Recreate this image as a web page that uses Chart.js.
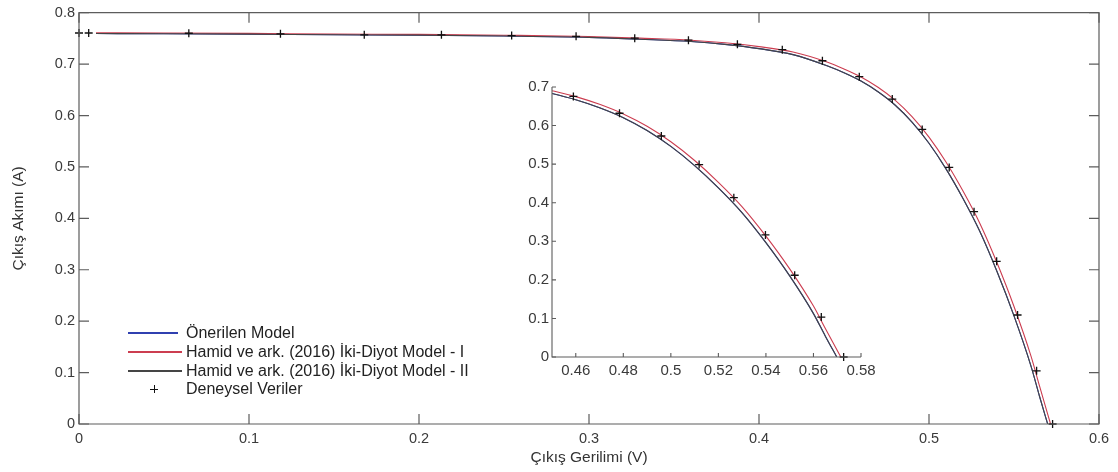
<!DOCTYPE html>
<html>
<head>
<meta charset="utf-8">
<script src="https://cdn.jsdelivr.net/npm/chart.js@4/dist/chart.umd.min.js"></script>
<style>
html,body{margin:0;padding:0;background:#fff;}
#wrap{position:relative;width:1118px;height:472px;overflow:hidden;background:#fff;}
#main{position:absolute;left:0;top:0;}
#inset{position:absolute;left:500px;top:70px;}
#legend{position:absolute;left:128px;top:324px;font-family:"Liberation Sans",Arial,sans-serif;font-size:16px;color:#222;}
.row{height:18.7px;display:flex;align-items:center;white-space:nowrap;}
.sw{width:58px;height:18px;position:relative;flex:none;}
.sw .ln{position:absolute;left:0;top:8px;height:2px;}
.sw .ch{position:absolute;left:22px;top:8.5px;width:8px;height:0;border-top:1.3px solid #111;}
.sw .cv{position:absolute;left:25.5px;top:5px;width:0;height:8px;border-left:1.3px solid #111;}
</style>
</head>
<body>
<div id="wrap">
  <canvas id="main" width="1118" height="472"></canvas>
  <canvas id="inset" width="400" height="330"></canvas>
  <div id="legend"></div>
</div>
<script>
// ---------- data ----------
const seriesLabels = ["Önerilen Model", "Hamid ve ark. (2016) İki-Diyot Model - I", "Hamid ve ark. (2016) İki-Diyot Model - II", "Deneysel Veriler"];

// experimental data (V, A)
const expV = [0, 0.0057, 0.0646, 0.1185, 0.1678, 0.2132, 0.2545, 0.2924, 0.3269, 0.3585, 0.3873, 0.4137, 0.4373, 0.4590, 0.4784, 0.4960, 0.5119, 0.5265, 0.5398, 0.5521, 0.5633, 0.5727];
const expI = [0.7605, 0.7605, 0.7600, 0.7590, 0.7570, 0.7570, 0.7555, 0.7540, 0.7505, 0.7465, 0.7385, 0.7280, 0.7065, 0.6755, 0.6320, 0.5730, 0.4990, 0.4130, 0.3165, 0.2120, 0.1035, 0.0];

// Model I (red) curve
const modelIV = [0.01, 0.05, 0.10, 0.15, 0.20, 0.25, 0.30, 0.33, 0.36, 0.38, 0.40, 0.42, 0.44, 0.45, 0.46, 0.47, 0.48, 0.49, 0.50, 0.51, 0.52, 0.53, 0.54, 0.55, 0.56, 0.565, 0.5715];
const modelII = [0.7608, 0.7605, 0.7597, 0.7585, 0.7578, 0.7562, 0.7537, 0.7505, 0.7465, 0.7415, 0.7340, 0.7235, 0.7040, 0.6905, 0.6750, 0.6550, 0.6300, 0.5980, 0.5580, 0.5095, 0.4530, 0.3895, 0.3135, 0.2285, 0.1320, 0.0740, 0.0];

// Model II (dark) curve
const modelIIV = [0.01, 0.05, 0.10, 0.15, 0.20, 0.25, 0.30, 0.33, 0.36, 0.38, 0.40, 0.42, 0.44, 0.45, 0.46, 0.47, 0.48, 0.49, 0.50, 0.51, 0.52, 0.53, 0.54, 0.55, 0.56, 0.565, 0.5698];
const modelIII = [0.7594, 0.7591, 0.7583, 0.7571, 0.7563, 0.7547, 0.7521, 0.7484, 0.7440, 0.7384, 0.7302, 0.7185, 0.6968, 0.6832, 0.6670, 0.6462, 0.6205, 0.5872, 0.5460, 0.4962, 0.4385, 0.3738, 0.2965, 0.2102, 0.1125, 0.0540, 0.0];

// Proposed model (blue) curve (hidden under model II)
const proposedV = [0.01, 0.05, 0.10, 0.15, 0.20, 0.25, 0.30, 0.33, 0.36, 0.38, 0.40, 0.42, 0.44, 0.45, 0.46, 0.47, 0.48, 0.49, 0.50, 0.51, 0.52, 0.53, 0.54, 0.55, 0.56, 0.565, 0.5698];
const proposedI = [0.7594, 0.7591, 0.7583, 0.7571, 0.7563, 0.7547, 0.7521, 0.7484, 0.7440, 0.7384, 0.7302, 0.7185, 0.6968, 0.6832, 0.6670, 0.6462, 0.6205, 0.5872, 0.5460, 0.4962, 0.4385, 0.3738, 0.2965, 0.2102, 0.1125, 0.0540, 0.0];

// tick labels
const mainXTicks = [0, 0.1, 0.2, 0.3, 0.4, 0.5, 0.6];
const mainYTicks = [0, 0.1, 0.2, 0.3, 0.4, 0.5, 0.6, 0.7, 0.8];
const insetXTicks = [0.46, 0.48, 0.5, 0.52, 0.54, 0.56, 0.58];
const insetYTicks = [0, 0.1, 0.2, 0.3, 0.4, 0.5, 0.6, 0.7];

const xTitle = "Çıkış Gerilimi (V)";
const yTitle = "Çıkış Akımı (A)";

// ---------- styles ----------
const colBlue = '#3040b0', colRed = '#cc3d50', colDark = '#454545', colMark = '#111111';
const FONT = '"Liberation Sans", Arial, sans-serif';
const tickColor = '#3a3a3a';
const axisColor = '#5c5c5c';

const pts = (xs, ys) => xs.map((v, i) => ({x: v, y: ys[i]}));

function makeDatasets(markerClip) {
  const line = {pointRadius: 0, borderWidth: 1.1, cubicInterpolationMode: 'monotone'};
  return [
    {label: seriesLabels[3], data: pts(expV, expI), showLine: false, pointStyle: 'cross', pointRadius: 4,
     pointBorderWidth: 1.3, borderColor: colMark, backgroundColor: colMark, order: 0, clip: markerClip},
    Object.assign({label: seriesLabels[2], data: pts(modelIIV, modelIII), borderColor: colDark, order: 1}, line),
    Object.assign({label: seriesLabels[1], data: pts(modelIV, modelII), borderColor: colRed, order: 2}, line),
    Object.assign({label: seriesLabels[0], data: pts(proposedV, proposedI), borderColor: colBlue, order: 3}, line)
  ];
}

const axesDeco = {
  id: 'axesDeco',
  afterDatasetsDraw(chart, args, o) {
    const {ctx, chartArea: a} = chart;
    const x = chart.scales.x, y = chart.scales.y;
    ctx.save();
    ctx.strokeStyle = axisColor;
    ctx.lineWidth = o.width;
    ctx.beginPath();
    if (o.box) {
      ctx.rect(a.left, a.top, a.right - a.left, a.bottom - a.top);
    } else {
      ctx.moveTo(a.left, a.top); ctx.lineTo(a.left, a.bottom); ctx.lineTo(a.right, a.bottom);
    }
    ctx.stroke();
    ctx.beginPath();
    const L = o.len;
    x.ticks.forEach(t => {
      const p = x.getPixelForValue(t.value);
      ctx.moveTo(p, a.bottom); ctx.lineTo(p, a.bottom - L);
      if (o.box) { ctx.moveTo(p, a.top); ctx.lineTo(p, a.top + L); }
    });
    y.ticks.forEach(t => {
      const p = y.getPixelForValue(t.value);
      ctx.moveTo(a.left, p); ctx.lineTo(a.left + L, p);
      if (o.box) { ctx.moveTo(a.right, p); ctx.lineTo(a.right - L, p); }
    });
    ctx.stroke();
    ctx.restore();
  }
};

// ---------- main chart ----------
new Chart(document.getElementById('main'), {
  type: 'line',
  data: {datasets: makeDatasets(false)},
  plugins: [axesDeco],
  options: {
    responsive: false, animation: false, devicePixelRatio: 1,
    layout: {padding: {left: 0, right: 19, top: 11, bottom: 0}},
    plugins: {legend: {display: false}, tooltip: {enabled: false}, axesDeco: {box: true, len: 10, width: 1.2}},
    scales: {
      x: {
        type: 'linear', position: 'bottom', min: 0, max: 0.6,
        grid: {display: false, drawTicks: false}, border: {display: false},
        afterBuildTicks: s => { s.ticks = mainXTicks.map(v => ({value: v})); },
        afterFit: s => { s.height = 48; },
        ticks: {padding: 6, color: tickColor, font: {family: FONT, size: 14.5}, maxRotation: 0, minRotation: 0, autoSkip: false, callback: v => String(v)},
        title: {display: true, text: xTitle, color: '#333', font: {family: FONT, size: 15.5}, padding: {top: 0, bottom: 5}}
      },
      y: {
        type: 'linear', position: 'left', min: 0, max: 0.8,
        grid: {display: false, drawTicks: false}, border: {display: false},
        afterBuildTicks: s => { s.ticks = mainYTicks.map(v => ({value: v})); },
        afterFit: s => { s.width = 79; },
        ticks: {padding: 4, color: tickColor, font: {family: FONT, size: 14.5}, autoSkip: false, callback: v => String(v)},
        title: {display: true, text: yTitle, color: '#333', font: {family: FONT, size: 15.5}, padding: {top: 9, bottom: 0}}
      }
    }
  }
});

// ---------- inset chart ----------
new Chart(document.getElementById('inset'), {
  type: 'line',
  data: {datasets: makeDatasets({left: 0, top: 0, right: 0, bottom: 6})},
  plugins: [axesDeco],
  options: {
    responsive: false, animation: false, devicePixelRatio: 1,
    layout: {padding: {left: 0, right: 39, top: 17, bottom: 0}},
    plugins: {legend: {display: false}, tooltip: {enabled: false}, axesDeco: {box: false, len: 4, width: 1.1}},
    scales: {
      x: {
        type: 'linear', position: 'bottom', min: 0.45, max: 0.58,
        grid: {display: false, drawTicks: false}, border: {display: false},
        afterBuildTicks: s => { s.ticks = insetXTicks.map(v => ({value: v})); },
        afterFit: s => { s.height = 43; },
        ticks: {padding: 5, color: tickColor, font: {family: FONT, size: 15}, maxRotation: 0, minRotation: 0, autoSkip: false, callback: v => String(v)}
      },
      y: {
        type: 'linear', position: 'left', min: 0, max: 0.7,
        grid: {display: false, drawTicks: false}, border: {display: false},
        afterBuildTicks: s => { s.ticks = insetYTicks.map(v => ({value: v})); },
        afterFit: s => { s.width = 52; },
        ticks: {padding: 3, color: tickColor, font: {family: FONT, size: 15}, autoSkip: false, callback: v => String(v)}
      }
    }
  }
});

// ---------- legend (HTML) ----------
const legendColors = [colBlue, colRed, colDark, null];
const legendWidths = [50, 54, 54, 0];
const lg = document.getElementById('legend');
seriesLabels.forEach((lab, i) => {
  const row = document.createElement('div'); row.className = 'row';
  const sw = document.createElement('div'); sw.className = 'sw';
  if (legendColors[i]) {
    const ln = document.createElement('div'); ln.className = 'ln';
    ln.style.width = legendWidths[i] + 'px'; ln.style.background = legendColors[i];
    sw.appendChild(ln);
  } else {
    const h = document.createElement('div'); h.className = 'ch';
    const v = document.createElement('div'); v.className = 'cv';
    sw.appendChild(h); sw.appendChild(v);
  }
  const tx = document.createElement('span'); tx.textContent = lab;
  row.appendChild(sw); row.appendChild(tx);
  lg.appendChild(row);
});
</script>
</body>
</html>
